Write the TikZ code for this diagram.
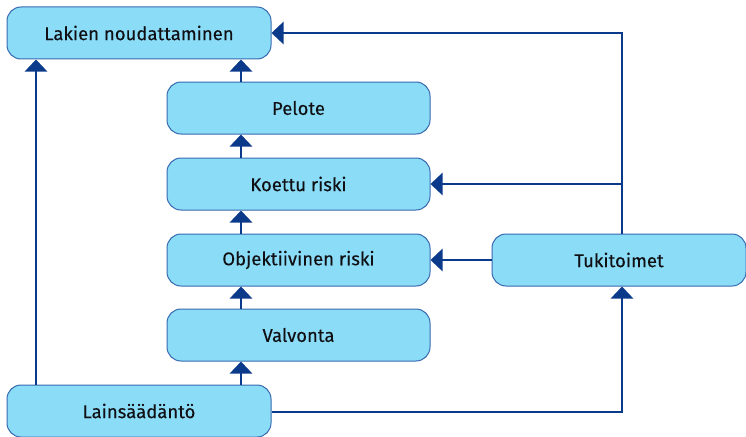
\documentclass[tikz,border=0pt]{standalone}
\usepackage{fontspec}
\setmainfont{Fira Sans}
\newfontfamily\boxfont[FakeBold=0.15]{Fira Sans}
\usetikzlibrary{arrows.meta}
\definecolor{boxfill}{RGB}{138,220,247}
\definecolor{boxdraw}{RGB}{55,105,175}
\definecolor{linkc}{RGB}{12,58,138}
\definecolor{txt}{RGB}{15,15,20}
\begin{document}
\begin{tikzpicture}[x=1pt,y=-1pt,
  box/.style={draw=boxdraw,fill=boxfill,line width=1pt,rounded corners=14pt,
    minimum height=52pt,inner sep=0pt,text=txt,font=\boxfont\fontsize{18.5}{22}\selectfont},
  link/.style={draw=linkc,line width=2.8pt,-{Triangle[width=22pt 0 0,length=12pt 0 0]}}]
\useasboundingbox (0,0) rectangle (746,436);
\node[box,minimum width=264pt] (lak) at (139,33) {Lakien noudattaminen};
\node[box,minimum width=263pt] (pel) at (298.5,108) {Pelote};
\node[box,minimum width=263pt] (koe) at (298.5,184) {Koettu riski};
\node[box,minimum width=263pt] (obj) at (298.5,260) {Objektiivinen riski};
\node[box,minimum width=263pt] (val) at (298.5,335) {Valvonta};
\node[box,minimum width=264pt] (lai) at (139,411) {Lainsäädäntö};
\node[box,minimum width=254pt] (tuk) at (619,260) {Tukitoimet};
\coordinate (tr) at (622,33);
\coordinate (kr) at (622,184);
\coordinate (br) at (622,412);
% central column
\draw[link] (pel.north -| 241,0) -- (lak.south -| 241,0);
\draw[link] (koe.north -| 241,0) -- (pel.south -| 241,0);
\draw[link] (obj.north -| 241,0) -- (koe.south -| 241,0);
\draw[link] (val.north -| 241,0) -- (obj.south -| 241,0);
\draw[link] (lai.north -| 241,0) -- (val.south -| 241,0);
% left
\draw[link] (lai.north -| 36,0) -- (lak.south -| 36,0);
% right
\draw[link] (tuk.north -| tr) -- (tr) -- (lak.east |- tr);
\draw[link] (kr) -- (koe.east |- kr);
\draw[link] (tuk.west) -- (obj.east);
\draw[link] (lai.east |- br) -- (br) -- (tuk.south -| br);
\end{tikzpicture}
\end{document}
